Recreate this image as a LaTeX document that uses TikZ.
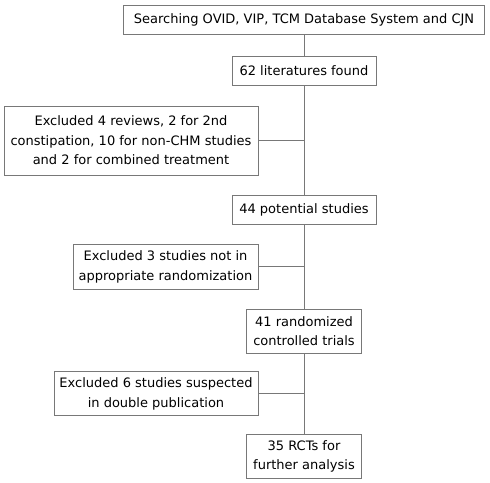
\documentclass[tikz,border=0pt]{standalone}
\usepackage{fontspec}
\setmainfont{DejaVu Sans}
\definecolor{linegray}{RGB}{120,120,120}
\begin{document}
\begin{tikzpicture}[x=1pt,y=-1pt,
  box/.style={draw=linegray, line width=0.9pt, align=center, inner sep=0pt, fill=white,
    font=\fontsize{13}{19.5}\selectfont},
  conn/.style={draw=linegray, line width=0.9pt}]
\useasboundingbox (0,0) rectangle (490,482);
\node[box, minimum width=361pt, minimum height=29pt] (b1) at (304,19.5) {Searching OVID, VIP, TCM Database System and CJN};
\node[box, minimum width=144pt, minimum height=29pt] (b2) at (304,70.5) {62 literatures found};
\node[box, minimum width=254pt, minimum height=69pt] (b3) at (131,140.5) {Excluded 4 reviews, 2 for 2nd\\constipation, 10 for non-CHM studies\\and 2 for combined treatment};
\node[box, minimum width=144pt, minimum height=29pt] (b4) at (304,209.5) {44 potential studies};
\node[box, minimum width=185pt, minimum height=45pt] (b5) at (165.5,266.7) {Excluded 3 studies not in\\appropriate randomization};
\node[box, minimum width=115pt, minimum height=44pt] (b6) at (304,331) {41 randomized\\controlled trials};
\node[box, minimum width=204pt, minimum height=44pt] (b7) at (156,393.7) {Excluded 6 studies suspected\\in double publication};
\node[box, minimum width=115pt, minimum height=44pt] (b8) at (304,456.3) {35 RCTs for\\further analysis};
\draw[conn] (b1.south) -- (b2.north);
\draw[conn] (b2.south) -- (b4.north);
\draw[conn] (b4.south) -- (b6.north);
\draw[conn] (b6.south) -- (b8.north);
\draw[conn] (b3.east) -- (b3.east -| b2.south);
\draw[conn] (b5.east) -- (b5.east -| b4.south);
\draw[conn] (b7.east) -- (b7.east -| b6.south);
\end{tikzpicture}
\end{document}
